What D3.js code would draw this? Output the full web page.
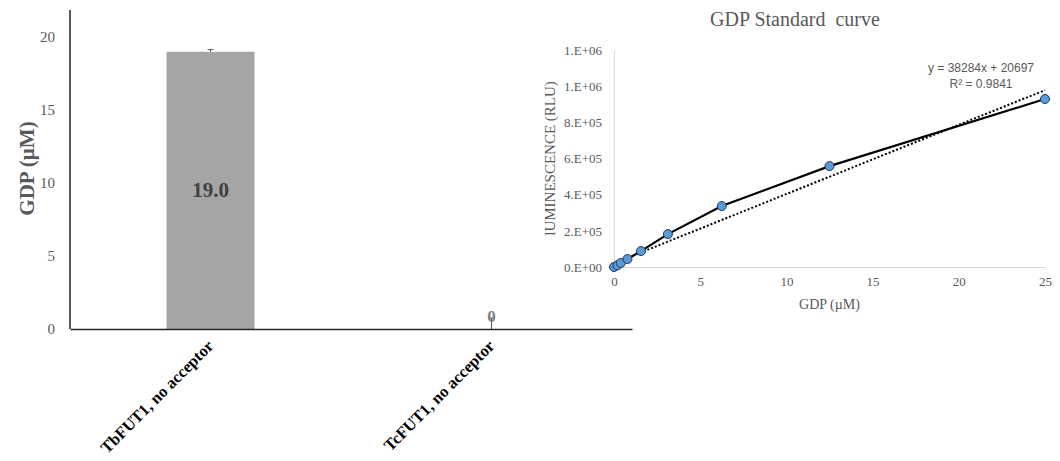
<!DOCTYPE html>
<html>
<head>
<meta charset="utf-8">
<script src="https://cdn.jsdelivr.net/npm/d3@7"></script>
<style>
  body { margin: 0; background: #fff; }
  svg { display: block; }
</style>
</head>
<body>
<div id="chart"></div>
<script>
// left bar chart
const barCategories = ["TbFUT1, no acceptor", "TcFUT1, no acceptor"];
const barValues = [19.0, 0];
const barErrors = [0.15, 0.75];
const barLabels = ["19.0", "0"];
const barTicks = [0, 5, 10, 15, 20];

// right standard curve
const stdX = [0, 0.195, 0.39, 0.78, 1.5625, 3.125, 6.25, 12.5, 25];
const stdY = [0, 9000, 22000, 44000, 88000, 182000, 337000, 558000, 929000];
const stdXTicks = [0, 5, 10, 15, 20, 25];
const stdYTicks = [0, 200000, 400000, 600000, 800000, 1000000, 1200000];
const fitSlope = 38284, fitIntercept = 20697;
const fitText = ["y = 38284x + 20697", "R² = 0.9841"];

const W = 1060, H = 461;
const serif = "'Liberation Serif', 'Times New Roman', serif";
const svg = d3.select("#chart").append("svg").attr("width", W).attr("height", H);

// ---------- left chart ----------
const xL = d3.scaleBand().domain(barCategories).range([70, 632]);
const yL = d3.scaleLinear().domain([0, 22]).range([329, 8]);
const barW = xL.bandwidth() * 0.313;

const gL = svg.append("g");

gL.selectAll("rect.bar")
  .data(barValues)
  .enter().append("rect")
  .attr("class", "bar")
  .attr("x", (d, i) => xL(barCategories[i]) + xL.bandwidth() / 2 - barW / 2)
  .attr("y", d => yL(d))
  .attr("width", barW)
  .attr("height", d => yL(0) - yL(d))
  .attr("fill", "#a5a5a5");

// error bars (upper only shows above bar)
barValues.forEach((v, i) => {
  const cx = xL(barCategories[i]) + xL.bandwidth() / 2;
  gL.append("line")
    .attr("x1", cx).attr("x2", cx)
    .attr("y1", yL(v)).attr("y2", yL(v + barErrors[i]))
    .attr("stroke", "#595959").attr("stroke-width", 1);
  gL.append("line")
    .attr("x1", cx - 3).attr("x2", cx + 3)
    .attr("y1", yL(v + barErrors[i])).attr("y2", yL(v + barErrors[i]))
    .attr("stroke", "#595959").attr("stroke-width", 1);
});

// value labels
gL.append("text")
  .attr("x", xL(barCategories[0]) + xL.bandwidth() / 2)
  .attr("y", yL(barValues[0] / 2) + 7)
  .attr("text-anchor", "middle")
  .style("font-family", serif).style("font-weight", "bold")
  .style("font-size", "21px").attr("fill", "#404040")
  .text(barLabels[0]);
gL.append("text")
  .attr("x", xL(barCategories[1]) + xL.bandwidth() / 2)
  .attr("y", yL(barErrors[1]) + 4)
  .attr("text-anchor", "middle")
  .style("font-family", serif).style("font-weight", "bold")
  .style("font-size", "17px").attr("fill", "#7f7f7f")
  .text(barLabels[1]);

// y axis
const yAxisL = gL.append("g")
  .attr("transform", "translate(70,0)")
  .call(d3.axisLeft(yL).tickValues(barTicks).tickSize(0).tickPadding(15));
yAxisL.select(".domain").remove();
yAxisL.selectAll("text")
  .style("font-family", serif).style("font-size", "15px").attr("fill", "#595959");

gL.append("line")
  .attr("x1", 70).attr("x2", 70).attr("y1", yL(22) + 2).attr("y2", yL(0))
  .attr("stroke", "#262626").attr("stroke-width", 1.5);

// x axis
const xAxisL = gL.append("g")
  .attr("transform", `translate(0,${yL(0)})`)
  .call(d3.axisBottom(xL).tickSize(0).tickFormat(""));
xAxisL.select(".domain").attr("stroke", "#262626").attr("stroke-width", 1.5);

gL.selectAll("text.cat")
  .data(barCategories)
  .enter().append("text")
  .attr("class", "cat")
  .attr("text-anchor", "end")
  .attr("transform", d => `translate(${xL(d) + xL.bandwidth() / 2 + 4},${yL(0) + 18}) rotate(-45)`)
  .style("font-family", serif).style("font-weight", "bold").style("font-size", "16.5px")
  .attr("fill", "#000")
  .text(d => d);

gL.append("text")
  .attr("transform", `translate(34,${(yL(0) + yL(22)) / 2}) rotate(-90)`)
  .attr("text-anchor", "middle")
  .style("font-family", serif).style("font-weight", "bold").style("font-size", "21px")
  .attr("fill", "#595959")
  .text("GDP (µM)");

// ---------- right chart ----------
const xR = d3.scaleLinear().domain([0, 25]).range([614, 1045]);
const yR = d3.scaleLinear().domain([0, 1200000]).range([267, 50]);
const gR = svg.append("g");

const sci = v => {
  if (v === 0) return "0.E+00";
  const e = Math.floor(Math.log10(v));
  const m = Math.round(v / Math.pow(10, e));
  return m + ".E+" + String(e).padStart(2, "0");
};

const yAxisR = gR.append("g")
  .attr("transform", `translate(${xR(0)},0)`)
  .call(d3.axisLeft(yR).tickValues(stdYTicks).tickSize(0).tickPadding(12).tickFormat(sci));
yAxisR.select(".domain").attr("stroke", "#d9d9d9");
yAxisR.selectAll("text")
  .style("font-family", serif).style("font-size", "13px").attr("fill", "#595959");

const xAxisR = gR.append("g")
  .attr("transform", `translate(0,${yR(0)})`)
  .call(d3.axisBottom(xR).tickValues(stdXTicks).tickSize(0).tickPadding(10));
xAxisR.select(".domain").attr("stroke", "#d9d9d9");
xAxisR.selectAll("text")
  .style("font-family", serif).style("font-size", "13px").attr("fill", "#595959");

// trend line
gR.append("line")
  .attr("x1", xR(0)).attr("y1", yR(fitIntercept))
  .attr("x2", xR(25)).attr("y2", yR(fitSlope * 25 + fitIntercept))
  .attr("stroke", "#000").attr("stroke-width", 2).attr("stroke-dasharray", "2,2");

const pts = stdX.map((x, i) => ({ x, y: stdY[i] }));
gR.append("path")
  .datum(pts)
  .attr("d", d3.line().x(d => xR(d.x)).y(d => yR(d.y)))
  .attr("fill", "none").attr("stroke", "#000").attr("stroke-width", 2.2);

gR.selectAll("circle")
  .data(pts)
  .enter().append("circle")
  .attr("cx", d => xR(d.x)).attr("cy", d => yR(d.y)).attr("r", 4.5)
  .attr("fill", "#5b9bd5").attr("stroke", "#1f3864").attr("stroke-width", 1);

gR.selectAll("text.fit")
  .data(fitText)
  .enter().append("text")
  .attr("class", "fit")
  .attr("x", 981).attr("y", (d, i) => 72 + i * 16)
  .attr("text-anchor", "middle")
  .style("font-family", "'Liberation Sans', Arial, sans-serif").style("font-size", "12px")
  .attr("fill", "#595959")
  .text(d => d);

gR.append("text")
  .attr("x", 795).attr("y", 26)
  .attr("text-anchor", "middle")
  .style("font-family", serif).style("font-size", "20px").attr("fill", "#595959")
  .attr("xml:space", "preserve")
  .text("GDP Standard  curve");

gR.append("text")
  .attr("x", (xR(0) + xR(25)) / 2).attr("y", 309)
  .attr("text-anchor", "middle")
  .style("font-family", serif).style("font-size", "14px").attr("fill", "#595959")
  .text("GDP (µM)");

gR.append("text")
  .attr("transform", `translate(555,${(yR(0) + yR(1200000)) / 2}) rotate(-90)`)
  .attr("text-anchor", "middle")
  .style("font-family", serif).style("font-size", "15px").attr("fill", "#595959")
  .text("lUMINESCENCE (RLU)");
</script>
</body>
</html>
